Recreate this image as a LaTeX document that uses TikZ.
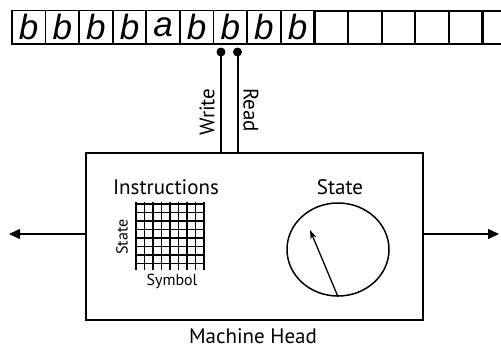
\documentclass[tikz,border=0pt]{standalone}
\usepackage{fontspec}
\setmainfont{PT Sans}
\newfontfamily\tapefont{Liberation Sans}
\usetikzlibrary{arrows.meta,shapes.geometric}
\begin{document}
\begin{tikzpicture}[x=1pt,y=-1pt,
  lbl/.style={inner sep=0pt,font=\fontsize{21}{24}\selectfont},
  small/.style={inner sep=0pt,font=\fontsize{16}{18}\selectfont},
  tapecell/.style={draw,line width=1.8pt,minimum width=33.6pt,minimum height=33.5pt,inner sep=0pt,anchor=north west,
     font=\tapefont\itshape\fontsize{35}{35}\selectfont},
  blankcell/.style={draw,line width=2.2pt,minimum width=33.6pt,minimum height=33.5pt,inner sep=0pt,anchor=north west},
  pin/.style={line width=2pt},
  dot/.style={circle,fill,inner sep=0pt,minimum size=9pt},
  frame/.style={draw,line width=2.2pt},
  side/.style={line width=1.5pt,-{Triangle[length=11pt,width=10pt]}}
]
\useasboundingbox (0,0) rectangle (501,348);
% tape
\foreach \l [count=\i from 0] in {b,b,b,b,a,b,b,b,b}
  \node[tapecell] (t\i) at (11+33.6*\i,9.5) {\raisebox{-0.5pt}{\l}};
\foreach \i in {0,...,5}
  \node[blankcell] (u\i) at (313.4+33.6*\i,9.5) {};
% pins
\node[dot] (dw) at (221,52) {};
\node[dot] (dr) at (237.5,52) {};
% machine box
\node[frame,minimum width=337pt,minimum height=167pt,inner sep=0pt] (box) at (254.2,236.3) {};
\coordinate (bw) at (221,152.7);
\coordinate (br) at (237.5,152.7);
\draw[pin] (dw.center) -- (bw);
\draw[pin] (dr.center) -- (br);
\node[lbl,rotate=90] (write) at (207,112) {Write};
\node[lbl,rotate=-90] (read) at (251,110) {Read};
% instructions
\node[lbl] (instr) at (166,187) {Instructions};
\draw[line width=1.3pt] (136,202) grid[step=8.5pt] (204,270);
\node (grid) at (170,236) {};
\node[small,rotate=90] (gstate) at (122,237) {State};
\node[small] (gsym) at (172,281) {Symbol};
% state dial
\node[lbl] (stlab) at (340,187) {State};
\node[draw,ellipse,line width=1.5pt,minimum width=102pt,minimum height=93pt,inner sep=0pt] (dial) at (338,249.5) {};
\coordinate (tip) at (310,230);
\draw[line width=1.3pt,-{Stealth[length=9pt,width=6pt]}] (dial.south) -- (tip);
% side arrows
\coordinate (la) at (9,234);
\coordinate (ra) at (499,234);
\draw[side] (box.west |- la) -- (la);
\draw[side] (box.east |- ra) -- (ra);
\node[lbl,anchor=base] (mh) at (253,343) {Machine Head};
\end{tikzpicture}
\end{document}
